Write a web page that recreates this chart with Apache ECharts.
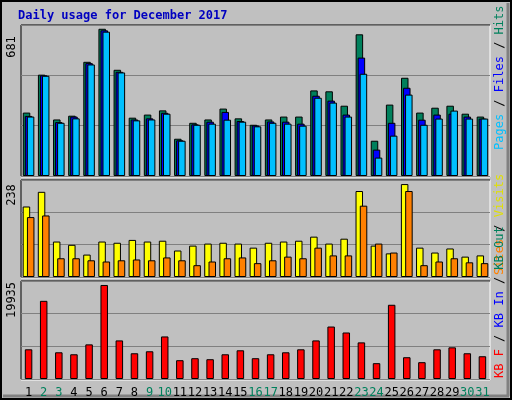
<!DOCTYPE html>
<html><head><meta charset="utf-8">
<script src="https://cdn.jsdelivr.net/npm/echarts@6/dist/echarts.min.js"></script>
<style>html,body{margin:0;padding:0;background:#c0c0c0}#c{width:512px;height:400px}</style>
</head><body><div id="c"></div>
<script>
const days = Array.from({length:31},(_,i)=>String(i+1));
const weekend = [2,3,9,10,16,17,23,24,30,31];
const hits  = [286,457,255,272,515,664,479,263,277,296,168,240,255,304,260,231,255,268,268,386,382,317,639,159,322,443,286,308,317,281,268];
const files = [271,454,243,268,509,657,470,255,260,285,161,233,245,289,248,228,246,245,236,362,340,277,534,119,240,398,254,277,281,268,259];
const pages = [268,452,240,260,503,651,467,251,255,281,159,231,236,254,245,224,240,236,227,353,331,268,461,83,182,367,231,259,295,259,259];
const visits= [173,209,87,79,55,87,84,91,87,89,65,77,82,84,82,72,84,87,89,99,82,94,211,77,58,228,72,60,70,50,53];
const sites = [147,151,46,46,41,38,41,43,41,48,41,29,38,46,48,34,41,50,46,72,53,53,175,82,60,211,29,38,46,36,34];
const kbytes= [6040,15900,5435,5030,7045,19125,7850,5235,5640,8655,3825,4230,4025,5030,5840,4230,5030,5435,6040,7850,10670,9460,7450,3220,15100,4430,3420,6040,6440,5235,4630];
const maxTop = 681, maxMid = 238, maxBot = 19935;

const L=21, R=22;
const grids=[{left:L,right:R,top:25,height:151},{left:L,right:R,top:180,height:97},{left:L,right:R,top:281,height:98}];
const mk=(gi,show)=>({type:'category',gridIndex:gi,data:days,boundaryGap:true,
  axisLine:{show:false},axisTick:{show:false},
  axisLabel:{show:show,interval:0,fontFamily:'DejaVu Sans Mono',fontSize:12,margin:8,
    color:(v)=>weekend.includes(+v)?'#00805c':'#000'}});
const my=(gi,max)=>({type:'value',gridIndex:gi,min:0,max:max,interval:max/3,
  axisLabel:{show:false},axisLine:{show:false},axisTick:{show:false},
  splitLine:{show:true,lineStyle:{color:'#808080',width:1}}});
const bar=(name,data,gi,color,gap,w)=>({name,type:'bar',xAxisIndex:gi,yAxisIndex:gi,data,
  barWidth:w,barGap:gap,itemStyle:{color,borderColor:'#000',borderWidth:1},animation:false});

const frame=(g)=>{const x0=L,x1=512-R,y0=g.top,y1=g.top+g.height;return [
  {type:'line',shape:{x1:x0,y1:y0,x2:x1,y2:y0},style:{stroke:'#000',lineWidth:1}},
  {type:'line',shape:{x1:x0,y1:y0,x2:x0,y2:y1},style:{stroke:'#000',lineWidth:1}},
  {type:'line',shape:{x1:x1,y1:y0,x2:x1,y2:y1+1},style:{stroke:'#fff',lineWidth:1}},
  {type:'line',shape:{x1:x0,y1:y1+1,x2:x1,y2:y1+1},style:{stroke:'#fff',lineWidth:1}}];};

const mono='DejaVu Sans Mono';
const vt=(x,y,rich,text)=>({type:'text',x,y,rotation:Math.PI/2,
  style:{text,rich,font:'12px '+mono,align:'left',verticalAlign:'middle'}});

const chart=echarts.init(document.getElementById('c'));
chart.setOption({
  backgroundColor:'#c0c0c0',animation:false,
  grid:grids,
  xAxis:[mk(0,false),mk(1,false),mk(2,true)],
  yAxis:[my(0,maxTop),my(1,maxMid),my(2,maxBot)],
  series:[
    bar('Hits',hits,0,'#00805c','-73%',7.5),
    bar('Files',files,0,'#0000ff','-73%',7.5),
    bar('Pages',pages,0,'#00c0ff','-73%',7.5),
    bar('Visits',visits,1,'#ffff00','-43%',7.5),
    bar('Sites',sites,1,'#ff8000','-43%',7.5),
    bar('KBytes',kbytes,2,'#ff0000','0%',7.5)
  ],
  graphic:[
    {type:'rect',shape:{x:1,y:1,width:510,height:398},style:{fill:'none',stroke:'#000',lineWidth:2},z:-1},
    {type:'line',shape:{x1:3,y1:396,x2:509,y2:396},style:{stroke:'#808080',lineWidth:3}},
    {type:'line',shape:{x1:508,y1:3,x2:508,y2:396},style:{stroke:'#808080',lineWidth:3}},
    {type:'text',x:18,y:10,style:{text:'Daily usage for December 2017',font:'bold 12px '+mono,fill:'#0000c0'}},
    ...frame(grids[0]),...frame(grids[1]),...frame(grids[2]),
    {type:'text',x:6,y:47,rotation:Math.PI/2,style:{text:'681',font:'12px '+mono,fill:'#000',align:'center',verticalAlign:'top'}},
    {type:'text',x:6,y:195,rotation:Math.PI/2,style:{text:'238',font:'12px '+mono,fill:'#000',align:'center',verticalAlign:'top'}},
    {type:'text',x:6,y:300,rotation:Math.PI/2,style:{text:'19935',font:'12px '+mono,fill:'#000',align:'center',verticalAlign:'top'}},
    {type:'text',x:494,y:150,rotation:Math.PI/2,style:{rich:{p:{fill:'#00c0ff'},f:{fill:'#0000ff'},h:{fill:'#00805c'},k:{fill:'#000'}},
      text:'{p|Pages}{k| / }{f|Files}{k| / }{h|Hits}',font:'12px '+mono,verticalAlign:'top'}},
    {type:'text',x:494,y:275,rotation:Math.PI/2,style:{rich:{s:{fill:'#ff8000'},v:{fill:'#e0e000'},k:{fill:'#000'}},
      text:'{s|Sites}{k| / }{v|Visits}',font:'12px '+mono,verticalAlign:'top'}},
    {type:'text',x:494,y:378,rotation:Math.PI/2,style:{rich:{r:{fill:'#ff0000'},b:{fill:'#0000ff'},g:{fill:'#00805c'},k:{fill:'#000'}},
      text:'{r|KB F}{k| / }{b|KB In}{k| / }{g|KB Out}',font:'12px '+mono,verticalAlign:'top'}}
  ]
});
</script></body></html>
